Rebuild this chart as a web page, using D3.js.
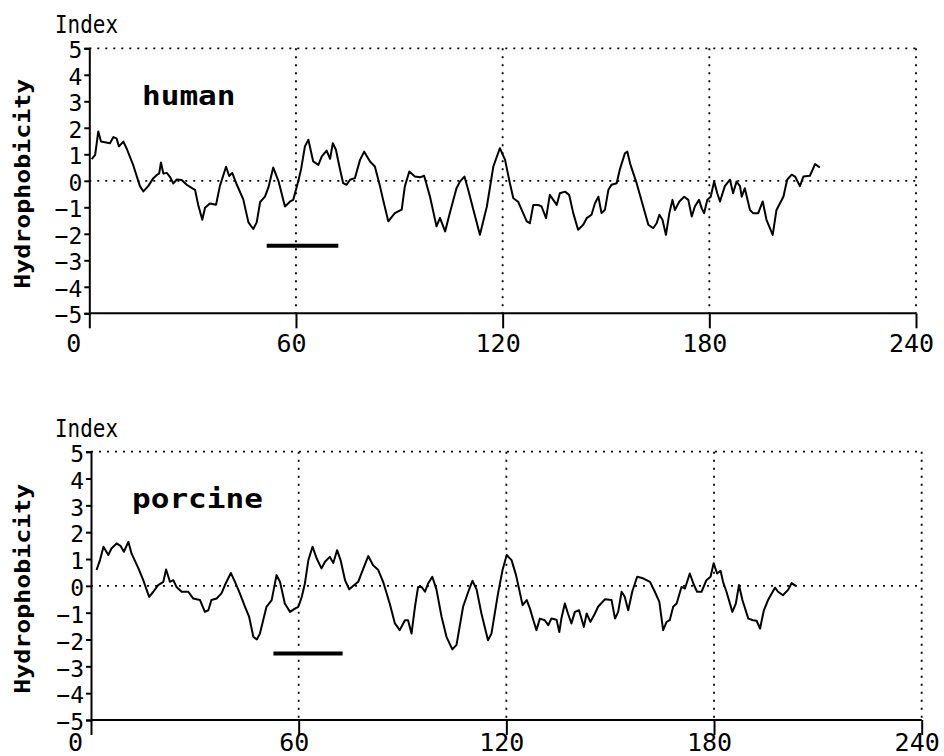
<!DOCTYPE html>
<html>
<head>
<meta charset="utf-8">
<script src="https://cdn.jsdelivr.net/npm/d3@7"></script>
<style>
  body { margin: 0; background: #fff; }
  svg { display: block; }
  .tick text { font-family: "DejaVu Sans Mono", monospace; fill: #000; }
</style>
</head>
<body>
<svg id="chart" width="944" height="756"></svg>
<script>
// ------- data -------
var xTicks = [0, 60, 120, 180, 240];
var yTicks = [-5, -4, -3, -2, -1, 0, 1, 2, 3, 4, 5];
var panelNames = ["human", "porcine"];

// human: residue position / hydrophobicity index
var humanX = [0.7, 1.7, 2.6, 3.4, 6.0, 7.0, 7.9, 8.6, 9.9, 10.9, 12.8, 14.7, 15.7, 17.1, 18.6, 19.6, 20.3, 20.8, 21.5, 22.5,
  23.4, 24.4, 25.4, 26.8, 28.3, 29.7, 30.7, 31.6, 32.8, 33.6, 35.0, 36.8, 37.9, 39.7, 40.6, 41.5, 42.8, 44.7, 46.2, 47.6,
  48.6, 49.6, 51.0, 52.0, 53.4, 54.9, 56.8, 58.3, 59.2, 60.7, 61.5, 62.6, 63.6, 65.0, 66.5, 67.5, 68.9, 69.9, 70.7, 71.6,
  72.6, 73.7, 74.7, 75.7, 77.1, 78.6, 79.8, 81.5, 82.9, 84.4, 85.3, 86.8, 88.7, 90.7, 91.6, 92.9, 94.5, 96.0, 97.2, 98.9,
  100.8, 101.8, 103.3, 104.7, 106.6, 107.6, 108.9, 110.0, 111.5, 113.4, 115.4, 117.3, 119.2, 120.7, 122.1, 123.1, 124.5, 125.5, 127.0, 127.9,
  128.9, 130.3, 131.3, 132.6, 133.7, 134.7, 135.7, 136.6, 138.1, 139.3, 140.5, 141.9, 143.4, 144.4, 145.8, 146.8, 147.8, 148.7, 149.7, 150.7,
  151.6, 153.1, 154.0, 155.5, 156.2, 157.0, 158.9, 160.8, 162.3, 163.7, 164.7, 165.5, 166.4, 167.4, 168.4, 169.3, 170.0, 171.3, 172.7, 173.9,
  174.9, 175.8, 177.0, 177.8, 178.5, 179.4, 180.4, 181.4, 182.3, 183.1, 184.5, 186.0, 186.9, 187.9, 188.9, 189.4, 190.3, 191.8, 192.7, 194.2,
  195.5, 196.6, 198.4, 199.5, 201.5, 202.6, 203.9, 204.9, 206.3, 207.3, 209.2, 210.7, 212.1];
var humanY = [0.82, 0.98, 1.86, 1.48, 1.42, 1.65, 1.60, 1.30, 1.48, 1.20, 0.57, -0.20, -0.40, -0.20, 0.10, 0.22, 0.28, 0.69, 0.27, 0.30,
  0.15, -0.10, 0.05, 0.03, -0.15, -0.27, -0.34, -0.90, -1.47, -1.02, -0.86, -0.90, -0.20, 0.53, 0.18, 0.30, -0.14, -0.70, -1.57, -1.82,
  -1.57, -0.80, -0.60, -0.25, 0.50, 0.00, -0.97, -0.78, -0.72, 0.00, 0.45, 1.30, 1.55, 0.73, 0.60, 0.92, 1.14, 0.83, 1.42, 1.17,
  0.54, -0.09, -0.15, 0.04, 0.10, 0.79, 1.10, 0.73, 0.54, -0.21, -0.72, -1.53, -1.22, -1.09, -0.21, 0.35, 0.16, 0.13, 0.19, -0.59,
  -1.72, -1.40, -1.91, -1.20, -0.28, -0.03, 0.16, -0.34, -1.09, -2.04, -0.98, 0.54, 1.23, 0.79, -0.09, -0.66, -0.79, -1.09, -1.53, -1.60,
  -0.91, -0.91, -0.97, -1.41, -0.53, -0.72, -0.91, -0.47, -0.41, -0.53, -1.22, -1.85, -1.66, -1.41, -1.28, -0.85, -0.60, -1.22, -1.09, -0.34,
  -0.15, -0.09, 0.42, 1.04, 1.10, 0.65, -0.09, -0.97, -1.66, -1.79, -1.60, -1.28, -1.47, -2.04, -1.22, -0.72, -1.10, -0.78, -0.60, -0.72,
  -1.35, -0.97, -0.72, -1.04, -1.22, -0.72, -0.60, -0.03, -0.47, -0.78, -0.20, 0.04, -0.47, -0.03, -0.20, -0.60, -0.28, -1.10, -1.22, -1.22,
  -0.78, -1.47, -2.04, -1.10, -0.60, 0.04, 0.23, 0.16, -0.20, 0.16, 0.19, 0.63, 0.50];

// porcine
var porcineX = [1.6, 2.6, 3.6, 5.0, 5.9, 7.4, 8.6, 9.5, 10.8, 11.7, 13.7, 15.1, 16.8, 18.0, 19.4, 20.9, 21.7, 22.8, 23.8, 24.7,
  26.2, 28.1, 29.5, 31.5, 32.9, 33.9, 34.8, 36.3, 37.7, 38.7, 40.4, 41.6, 43.0, 44.5, 45.7, 46.9, 47.9, 48.8, 50.7, 52.2,
  53.6, 54.6, 56.0, 57.5, 58.9, 59.9, 60.9, 61.8, 62.8, 64.0, 65.2, 66.6, 67.6, 69.0, 70.0, 71.1, 72.1, 73.4, 74.6, 75.8,
  77.2, 78.7, 80.1, 81.5, 83.0, 84.4, 86.3, 87.8, 89.2, 90.7, 91.6, 92.6, 93.6, 94.5, 95.5, 96.5, 97.4, 98.6, 99.8, 101.3,
  102.7, 104.4, 105.6, 107.5, 109.0, 110.2, 111.4, 112.8, 114.7, 115.7, 117.6, 118.9, 120.1, 121.5, 122.8, 124.7, 125.9, 126.8, 127.8, 128.7,
  129.7, 131.1, 132.1, 133.0, 134.5, 135.3, 135.9, 136.9, 137.8, 138.8, 139.8, 141.0, 142.4, 143.2, 144.3, 145.6, 146.5, 148.5, 150.4, 151.4,
  152.3, 153.3, 154.2, 155.2, 156.4, 157.8, 159.5, 161.5, 162.9, 164.2, 165.3, 166.3, 167.2, 168.2, 169.2, 170.6, 171.6, 173.0, 174.2, 175.1,
  176.4, 177.8, 179.0, 179.9, 180.9, 181.9, 182.6, 183.6, 185.3, 186.3, 187.2, 188.2, 189.9, 191.3, 192.3, 193.3, 194.4, 195.6, 197.6, 198.5,
  199.9, 201.4, 202.4, 203.6];
var porcineY = [0.59, 0.96, 1.46, 1.15, 1.39, 1.58, 1.48, 1.27, 1.64, 1.21, 0.65, 0.21, -0.41, -0.22, 0.03, 0.15, 0.61, 0.15, 0.21, -0.04,
  -0.22, -0.22, -0.47, -0.53, -0.97, -0.91, -0.53, -0.47, -0.28, 0.03, 0.48, 0.15, -0.28, -0.78, -1.16, -1.90, -2.00, -1.78, -0.78, -0.53,
  0.40, 0.15, -0.66, -0.97, -0.85, -0.78, -0.41, 0.09, 0.96, 1.46, 1.02, 0.65, 0.90, 1.08, 0.85, 1.33, 0.96, 0.21, -0.13, 0.00,
  0.15, 0.65, 1.11, 0.77, 0.59, 0.15, -0.66, -1.40, -1.65, -1.28, -1.28, -1.78, -0.78, -0.04, -0.04, -0.22, 0.09, 0.34, -0.13, -1.16,
  -1.90, -2.37, -2.20, -0.78, -0.22, 0.19, -0.13, -1.03, -2.03, -1.78, -0.28, 0.59, 1.15, 0.96, 0.40, -0.72, -0.53, -0.84, -1.28, -1.65,
  -1.22, -1.28, -1.47, -1.22, -1.26, -1.72, -1.22, -0.66, -1.03, -1.40, -0.97, -0.91, -1.53, -1.03, -1.34, -1.03, -0.78, -0.50, -0.53, -1.22,
  -0.97, -0.22, -0.41, -0.91, -0.20, 0.34, 0.28, 0.15, -0.22, -0.60, -1.65, -1.34, -1.28, -0.78, -0.66, -0.04, -0.10, 0.46, 0.03, -0.22,
  -0.22, 0.21, 0.34, 0.84, 0.46, 0.56, 0.15, -0.22, -0.97, -0.66, 0.03, -0.53, -1.22, -1.28, -1.30, -1.59, -0.91, -0.53, -0.07, -0.22,
  -0.35, -0.15, 0.10, 0.00];

// thick bars under the plots: [start, end, level]
var humanBar = [51.5, 72.3, -2.45];
var porcineBar = [52.7, 72.7, -2.52];

// ------- drawing -------
var svg = d3.select("#chart");

var panels = [
  { name: panelNames[0], xs: humanX, ys: humanY, bar: humanBar,
    left: 89.3, right: 916, top: 48.3, bottom: 313.3, indexY: 33, nameX: 142, nameY: 105, labelBase: 39 },
  { name: panelNames[1], xs: porcineX, ys: porcineY, bar: porcineBar,
    left: 91, right: 921.7, top: 451.7, bottom: 720, indexY: 437, nameX: 132, nameY: 508, labelBase: 31 }
];

panels.forEach(function (p) {
  var x = d3.scaleLinear().domain([0, 240]).range([p.left, p.right]);
  var y = d3.scaleLinear().domain([-5, 5]).range([p.bottom, p.top]);
  var g = svg.append("g");

  // dotted grid
  var dots = g.append("g")
    .attr("stroke", "#000")
    .attr("stroke-width", 1.8)
    .attr("stroke-dasharray", "2,6");
  [0, 5].forEach(function (v) {
    dots.append("line")
      .attr("x1", x(0)).attr("x2", x(240))
      .attr("y1", y(v)).attr("y2", y(v));
  });
  [60, 120, 180, 240].forEach(function (v) {
    dots.append("line")
      .attr("x1", x(v)).attr("x2", x(v))
      .attr("y1", y(5)).attr("y2", y(-5));
  });

  // axes
  var yAxis = d3.axisLeft(y).tickValues(yTicks).tickSize(5).tickPadding(2);
  var gy = g.append("g")
    .attr("transform", "translate(" + x(0) + ",0)")
    .call(yAxis);
  gy.selectAll("text").style("font-size", "23px").attr("dy", "0.42em");

  var xAxis = d3.axisBottom(x).tickValues(xTicks).tickSize(15);
  var gx = g.append("g")
    .attr("transform", "translate(0," + y(-5) + ")")
    .call(xAxis);
  // plotter put its labels a bit left of the ticks
  gx.selectAll("text")
    .style("font-size", "25px")
    .attr("y", p.labelBase)
    .attr("dy", null)
    .attr("dx", function (d) { return d === 0 ? -16 : -5; });

  svg.selectAll(".domain, .tick line").attr("stroke", "#000").attr("stroke-width", 2);
  gx.select(".domain").attr("d", "M" + x(0) + ",0H" + x(240));

  // profile line
  var pts = p.xs.map(function (d, i) { return [d, p.ys[i]]; });
  var line = d3.line()
    .x(function (d) { return x(d[0]); })
    .y(function (d) { return y(d[1]); });
  g.append("path")
    .datum(pts)
    .attr("d", line)
    .attr("fill", "none")
    .attr("stroke", "#000")
    .attr("stroke-width", 2)
    .attr("stroke-linejoin", "round");

  // bar
  g.append("line")
    .attr("x1", x(p.bar[0])).attr("x2", x(p.bar[1]))
    .attr("y1", y(p.bar[2])).attr("y2", y(p.bar[2]))
    .attr("stroke", "#000")
    .attr("stroke-width", 4);

  // labels
  g.append("text")
    .attr("x", 55).attr("y", p.indexY)
    .style("font-family", "DejaVu Sans Mono, monospace")
    .style("font-size", "25px")
    .attr("textLength", 63)
    .attr("lengthAdjust", "spacingAndGlyphs")
    .text("Index");

  g.append("text")
    .attr("transform", "translate(30," + ((p.top + p.bottom) / 2 + 3) + ")rotate(-90)")
    .attr("text-anchor", "middle")
    .style("font-family", "DejaVu Sans Mono, monospace")
    .style("font-weight", "bold")
    .style("font-size", "22px")
    .attr("textLength", 210)
    .attr("lengthAdjust", "spacingAndGlyphs")
    .text("Hydrophobicity");

  g.append("text")
    .attr("x", p.nameX).attr("y", p.nameY)
    .style("font-family", "DejaVu Sans Mono, monospace")
    .style("font-weight", "bold")
    .style("font-size", "27px")
    .attr("textLength", p.name.length * 18.7)
    .attr("lengthAdjust", "spacingAndGlyphs")
    .text(p.name);
});
</script>
</body>
</html>
